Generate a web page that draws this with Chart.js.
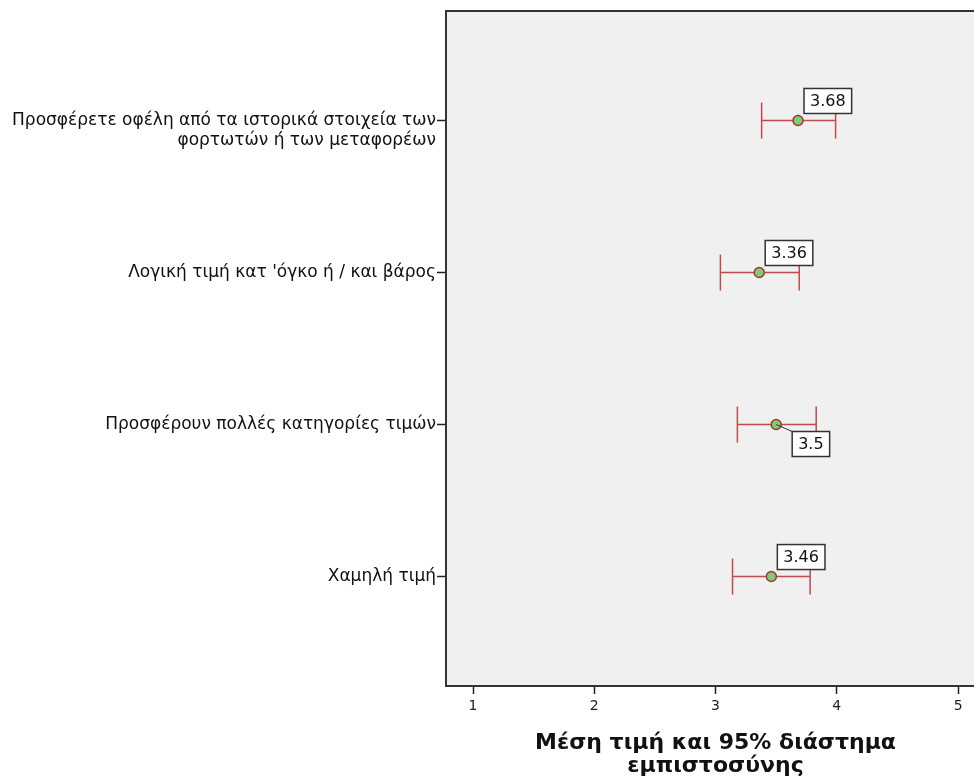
<!DOCTYPE html>
<html>
<head>
<meta charset="utf-8">
<script src="https://cdn.jsdelivr.net/npm/chart.js@4"></script>
<style>
    html, body { margin: 0; padding: 0; background: #fff; overflow: hidden; }
    #wrap { width: 995px; height: 778px; }
</style>
</head>
<body>
<div id="wrap"><canvas id="ci_chart" width="995" height="778"></canvas></div>
<script>
// Ερωτήσεις (κατηγορίες) και στατιστικά
const categories = [
    ["", "Προσφέρετε οφέλη από τα ιστορικά στοιχεία των", "φορτωτών ή των μεταφορέων"],
    "Λογική τιμή κατ 'όγκο ή / και βάρος",
    "Προσφέρουν πολλές κατηγορίες τιμών",
    "Χαμηλή τιμή",
];
const means = [3.68, 3.36, 3.5, 3.46];
const lowerCI = [3.38, 3.04, 3.18, 3.14];
const upperCI = [3.99, 3.69, 3.83, 3.78];
const xTicks = [1, 2, 3, 4, 5];
// θέση της ετικέτας τιμής: πάνω δεξιά ή κάτω δεξιά
const labelSide = ["above", "above", "below", "above"];

const barColor = "rgba(185, 45, 45, 0.85)";

// Φόντο και πάνω περίγραμμα της περιοχής σχεδίασης
const plotBackground = {
    id: "plotBackground",
    beforeDraw(chart) {
        const { ctx, chartArea: a } = chart;
        ctx.save();
        ctx.fillStyle = "#f0f0f0";
        ctx.fillRect(a.left, a.top, a.right - a.left, a.bottom - a.top);
        ctx.strokeStyle = "#333";
        ctx.lineWidth = 2;
        ctx.beginPath();
        ctx.moveTo(a.left, a.top);
        ctx.lineTo(a.right + 20, a.top);
        ctx.stroke();
        ctx.restore();
    },
};

// Γραμμές διαστήματος εμπιστοσύνης
const errorBars = {
    id: "errorBars",
    beforeDatasetsDraw(chart) {
        const { ctx, scales } = chart;
        ctx.save();
        ctx.strokeStyle = barColor;
        ctx.lineWidth = 1.5;
        means.forEach((m, i) => {
            const y = scales.y.getPixelForValue(i);
            const x1 = scales.x.getPixelForValue(lowerCI[i]);
            const x2 = scales.x.getPixelForValue(upperCI[i]);
            ctx.beginPath();
            ctx.moveTo(x1, y);
            ctx.lineTo(x2, y);
            ctx.moveTo(x1, y - 18);
            ctx.lineTo(x1, y + 18);
            ctx.moveTo(x2, y - 18);
            ctx.lineTo(x2, y + 18);
            ctx.stroke();
        });
        ctx.restore();
    },
};

// Ετικέτες με την τιμή του μέσου όρου
const valueLabels = {
    id: "valueLabels",
    afterDatasetsDraw(chart) {
        const { ctx, scales } = chart;
        ctx.save();
        ctx.font = "16px 'DejaVu Sans'";
        ctx.textBaseline = "middle";
        ctx.textAlign = "left";
        means.forEach((m, i) => {
            const px = scales.x.getPixelForValue(m);
            const py = scales.y.getPixelForValue(i);
            const txt = String(m);
            const w = ctx.measureText(txt).width + 12;
            const h = 25;
            let bx, by;
            if (labelSide[i] === "below") {
                bx = px + 16;
                by = py + 7;
                ctx.strokeStyle = "#333";
                ctx.lineWidth = 1;
                ctx.beginPath();
                ctx.moveTo(px, py);
                ctx.lineTo(bx, by);
                ctx.stroke();
            } else {
                bx = px + 6;
                by = py - 7 - h;
            }
            ctx.fillStyle = "#fff";
            ctx.fillRect(bx, by, w, h);
            ctx.strokeStyle = "#333";
            ctx.lineWidth = 1.5;
            ctx.strokeRect(bx, by, w, h);
            ctx.fillStyle = "#111";
            ctx.fillText(txt, bx + 6, by + h / 2 + 1);
        });
        ctx.restore();
    },
};

const ctxCi = document.getElementById("ci_chart").getContext("2d");
new Chart(ctxCi, {
    type: "scatter",
    data: {
        datasets: [
            {
                data: means.map((m, i) => ({ x: m, y: i })),
                backgroundColor: "#78cf78",
                borderColor: "#b03030",
                borderWidth: 1.5,
                pointRadius: 5,
            },
        ],
    },
    options: {
        responsive: false,
        animation: false,
        layout: { padding: { top: 10, right: 10, left: 0, bottom: 0 } },
        plugins: {
            legend: { display: false },
            tooltip: { enabled: false },
        },
        scales: {
            x: {
                type: "linear",
                min: 0.777,
                max: 5.222,
                afterBuildTicks: (scale) => {
                    scale.ticks = xTicks.map((v) => ({ value: v }));
                },
                afterFit: (scale) => {
                    scale.height = 92;
                },
                ticks: {
                    color: "#222",
                    font: { family: "DejaVu Sans", size: 14 },
                    padding: 4,
                },
                grid: {
                    drawOnChartArea: false,
                    drawTicks: true,
                    tickLength: 8,
                    tickWidth: 1.5,
                    tickColor: "#222",
                },
                border: { display: true, color: "#333", width: 2 },
                title: {
                    display: true,
                    text: ["Μέση τιμή και 95% διάστημα", "εμπιστοσύνης"],
                    color: "#111",
                    font: { family: "DejaVu Sans", size: 22, weight: "bold", lineHeight: 1.05 },
                    padding: { top: 0, bottom: 0 },
                },
            },
            y: {
                type: "linear",
                reverse: true,
                min: -0.72,
                max: 3.72,
                afterBuildTicks: (scale) => {
                    scale.ticks = categories.map((c, i) => ({ value: i }));
                },
                afterFit: (scale) => {
                    scale.width = 446;
                },
                ticks: {
                    color: "#111",
                    font: { family: "DejaVu Sans", size: 17, lineHeight: 1.18 },
                    padding: 1,
                    callback: (value) => categories[value],
                },
                grid: {
                    drawOnChartArea: false,
                    drawTicks: true,
                    tickLength: 9,
                    tickWidth: 1.5,
                    tickColor: "#222",
                },
                border: { display: true, color: "#333", width: 2 },
            },
        },
    },
    plugins: [plotBackground, errorBars, valueLabels],
});
</script>
</body>
</html>
